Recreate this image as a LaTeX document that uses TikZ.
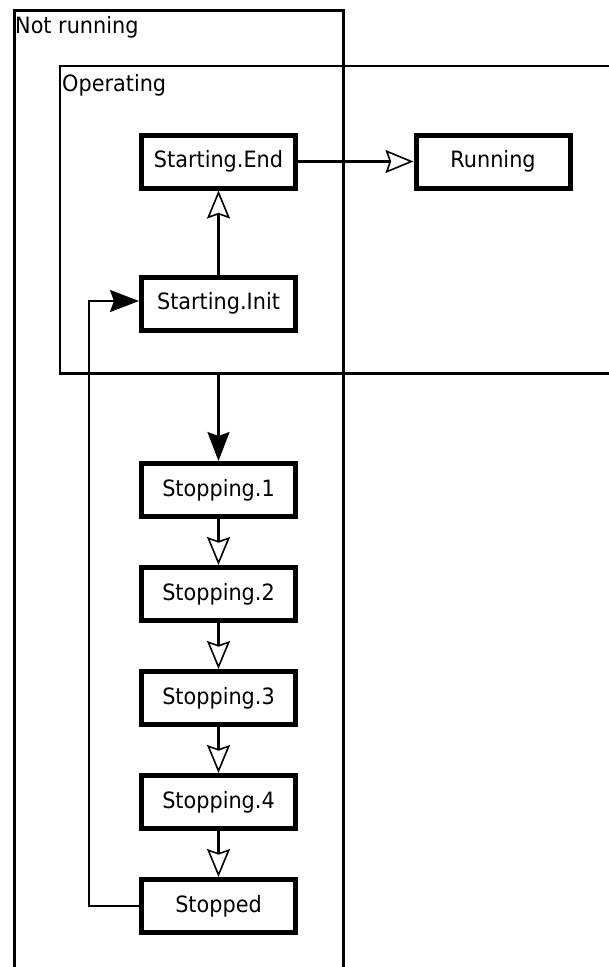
\documentclass[tikz,border=0pt]{standalone}
\usepackage{fontspec}
\setmainfont{DejaVu Sans}
\usetikzlibrary{arrows.meta,positioning}

% slightly tall lettering used for every label
\newcommand{\talltext}[1]{\scalebox{1}[1.08]{#1}}

\tikzset{
  statebox/.style={draw=black, line width=5pt, fill=white,
    minimum width=154pt, minimum height=53pt, inner sep=0pt,
    font=\fontsize{20.8}{24}\selectfont},
  region/.style={draw=black, inner sep=0pt, anchor=north west},
  regionlabel/.style={anchor=base west, inner sep=0pt,
    font=\fontsize{20.8}{24}\selectfont},
  link/.style={line width=2.2pt},
  openhead/.style={-{Stealth[open, length=28pt, width=23pt, inset=4pt, line width=1.6pt]}},
  solidhead/.style={-{Stealth[length=29pt, width=22pt, inset=4pt]}},
}

\begin{document}
\begin{tikzpicture}[x=1pt, y=-1pt]
  \clip (0,0) rectangle (609,967);
  \fill[white] (0,0) rectangle (609,967);

  % outer and inner regions
  \node (notrunning) [region, line width=3pt, minimum width=328.7pt, minimum height=1000pt] at (13.3,8.5) {};
  \node (operating) [region, line width=2.5pt, minimum width=600pt, minimum height=307.5pt] at (58.7,64.7) {};
  \node (notrunninglabel) [regionlabel] at (15,33) {\talltext{Not running}};
  \node (operatinglabel) [regionlabel] at (62,91) {\talltext{Operating}};

  % states
  \node (startend)  [statebox] at (218.5,161.5) {\talltext{Starting.End}};
  \node (running)   [statebox] at (493,161.5) {\talltext{Running}};
  \node (startinit) [statebox] at (218.5,303.5) {\talltext{Starting.Init}};
  \node (stop1)     [statebox] at (218.5,490) {\talltext{Stopping.1}};
  \node (stop2)     [statebox] at (218.5,594) {\talltext{Stopping.2}};
  \node (stop3)     [statebox] at (218.5,698) {\talltext{Stopping.3}};
  \node (stop4)     [statebox] at (218.5,802) {\talltext{Stopping.4}};
  \node (stopped)   [statebox] at (218.5,906) {\talltext{Stopped}};

  % transitions
  \draw[link, openhead] (startinit) -- (startend);
  \draw[link, openhead] (startend) -- (running);
  \draw[link, solidhead] (stop1 |- operating.south) -- (stop1);
  \draw[link, openhead] (stop1) -- (stop2);
  \draw[link, openhead] (stop2) -- (stop3);
  \draw[link, openhead] (stop3) -- (stop4);
  \draw[link, openhead] (stop4) -- (stopped);
  \coordinate (loopbottom) at (89,906);
  \coordinate (looptop) at (89,301);
  \draw[link, solidhead] (stopped.west) -- (loopbottom) -- (looptop) -- (startinit.west |- looptop);
\end{tikzpicture}
\end{document}
